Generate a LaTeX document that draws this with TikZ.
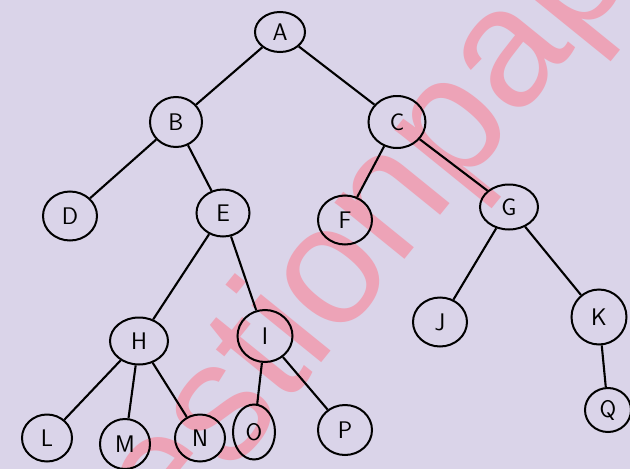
\documentclass[tikz,border=0pt]{standalone}
\usepackage{fontspec}
\newfontfamily\wmfont{Liberation Sans}
\usetikzlibrary{shapes.geometric}
\definecolor{paper}{RGB}{218,212,233}
\definecolor{wmred}{RGB}{237,163,183}
\tikzset{
  tnode/.style={ellipse,draw=black,line width=2pt,minimum width=54pt,minimum height=49pt,inner sep=0pt,font=\fontsize{24}{24}\selectfont\sffamily},
  tedge/.style={draw=black,line width=2.1pt},
}
\begin{document}
\begin{tikzpicture}[x=1pt,y=-1pt]
\fill[paper] (0,0) rectangle (630,469);
\useasboundingbox (0,0) rectangle (630,469);
\node[wmred,rotate=51,anchor=base,font=\wmfont\fontsize{170}{170}\selectfont] (wm) at (392,276) {questionpaper};
\node[tnode,minimum width=50pt,minimum height=40pt] (A) at (280,32) {A};
\node[tnode,minimum width=52pt,minimum height=50pt] (B) at (176,122) {B};
\node[tnode,minimum width=57pt,minimum height=52pt] (C) at (397,122) {C};
\node[tnode] (D) at (70,216) {D};
\node[tnode,minimum width=53pt,minimum height=47pt] (E) at (223,213) {E};
\node[tnode] (F) at (345,220) {F};
\node[tnode,minimum width=58pt,minimum height=45pt] (G) at (509,207) {G};
\node[tnode,minimum width=58pt,minimum height=47pt] (H) at (139,341) {H};
\node[tnode,minimum width=55pt,minimum height=52pt] (I) at (265,336) {I};
\node[tnode] (J) at (440,322) {J};
\node[tnode,minimum width=55pt,minimum height=55pt] (K) at (599,317) {K};
\node[tnode,minimum width=50pt,minimum height=47pt] (L) at (47,438) {L};
\node[tnode,minimum width=50pt,minimum height=50pt] (M) at (125,444) {M};
\node[tnode,minimum width=50pt,minimum height=47pt] (N) at (200,438) {N};
\node[tnode,minimum width=42pt,minimum height=55pt] (O) at (254,432) {O};
\node[tnode,minimum width=54pt,minimum height=50pt] (P) at (345,430) {P};
\node[tnode,minimum width=46pt,minimum height=44pt] (Q) at (608,410) {Q};
\foreach \a/\b in {A/B,A/C,B/D,B/E,C/F,C/G,E/H,E/I,G/J,G/K,H/L,H/M,H/N,I/O,I/P,K/Q}
  \draw[tedge] (\a) -- (\b);
\end{tikzpicture}
\end{document}
